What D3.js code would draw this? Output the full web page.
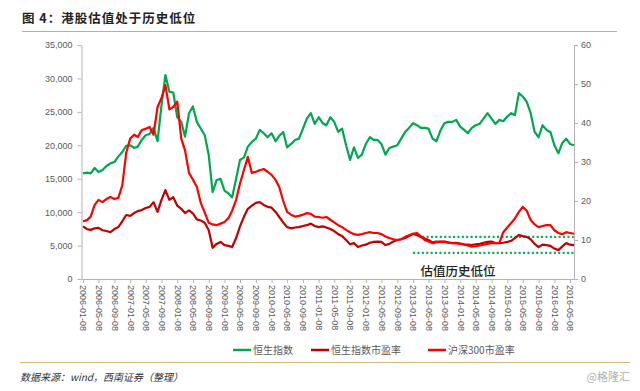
<!DOCTYPE html>
<html>
<head>
<meta charset="utf-8">
<script src="https://cdn.jsdelivr.net/npm/d3@7"></script>
<style>
  body { margin: 0; background: #fff; }
  text { font-family: "Liberation Sans", Arial, sans-serif; }
  .cjk { font-family: "Noto Sans CJK SC", sans-serif; }
</style>
</head>
<body>
<div id="chart"></div>
<script>
const width = 640;
const height = 391;

// monthly readings, first point 2006-01-08, one per month
const firstDate = "2006-01-08";

// 恒生指数 (left axis)
const hsi = [
  15800, 15900, 15800, 16600, 16000, 16300, 16900, 17300, 17500, 18300, 19000, 19900,
  20000, 19600, 19800, 20800, 21500, 21700, 22600, 20600, 26000, 30500, 28000, 27900,
  24200, 23500, 21300, 24800, 25800, 23500, 22500, 21500, 18500, 13000, 14800, 15000,
  13200, 12800, 12200, 15000, 17800, 18200, 19800, 20500, 21000, 22300, 21800, 21200,
  21800, 20600, 21400, 22000, 19700, 20200, 20800, 21000, 22500, 24000, 24800, 23200,
  24200, 23300, 23000, 24200, 23500, 22000, 22500, 20000, 17800, 19700, 18100, 18600,
  20200, 21200, 20800, 20800, 20200, 18600, 19600, 19800, 20000, 21000, 22000, 22600,
  23300, 23000, 22600, 22600, 22500, 21000, 20600, 22200, 23300, 23500, 23500, 23800,
  22800, 22300, 21800, 22600, 23000, 23200, 24000, 24800, 24000, 23200, 23800, 23600,
  24300, 24800, 24500, 27800, 27300, 26500, 24800, 22000, 21200, 23000, 22300, 22000,
  20000, 18800, 20300, 21000, 20200, 20000
];

// 恒生指数市盈率 (right axis)
const hsiPe = [
  13.5, 12.8, 12.6, 13.0, 13.1, 12.5, 12.3, 12.0, 12.8, 13.3, 14.8, 16.4,
  16.2, 16.9, 17.4, 17.7, 18.2, 18.5, 19.7, 17.2, 20.3, 22.8, 20.3, 21.0,
  18.8, 18.0, 16.9, 17.6, 16.8, 15.3, 15.0, 14.4, 12.5, 8.0, 9.0, 9.5,
  8.7, 8.5, 8.2, 10.5, 13.5, 16.0, 18.0, 18.8, 19.5, 19.7, 19.0, 18.5,
  18.3, 17.2, 15.9, 14.5, 13.3, 13.0, 13.2, 13.3, 13.6, 13.8, 14.2, 13.6,
  13.3, 13.5, 13.2, 12.8, 12.3, 11.5, 11.0, 10.0, 8.9, 9.2, 8.2, 8.6,
  8.8, 9.3, 9.5, 9.6, 9.5, 8.7, 9.0, 9.6, 10.0, 10.2, 10.5, 11.0,
  11.6, 11.2, 10.8, 10.4, 10.0, 9.4, 9.6, 9.5, 9.6, 9.4, 9.2, 9.3,
  9.1, 8.9, 8.8, 8.7, 8.9, 9.0, 9.3, 9.5, 9.6, 9.2, 9.2, 9.3,
  9.5, 9.8, 10.5, 11.3, 11.0, 10.8, 10.2, 9.0, 8.2, 8.8, 8.7, 8.5,
  7.8, 7.4, 8.3, 9.2, 8.8, 8.7
];

// 沪深300市盈率 (right axis)
const hs300Pe = [
  14.8, 15.1, 16.0, 19.0, 20.3, 19.7, 20.5, 21.0, 20.5, 20.8, 24.0, 32.3,
  36.0, 37.0, 36.4, 38.2, 38.5, 39.0, 37.0, 44.1, 46.4, 49.7, 43.5, 44.1,
  45.5, 36.0, 33.0, 27.2, 25.5, 23.6, 19.5, 17.0, 14.4, 14.0, 13.8, 14.2,
  14.6, 15.6, 17.5, 20.3, 24.5, 28.0, 31.3, 27.2, 27.5, 27.9, 28.2, 27.5,
  26.7, 25.4, 23.6, 20.0, 17.2, 16.5, 16.0, 16.2, 16.5, 16.9, 16.7, 16.0,
  15.9, 15.7, 15.9, 15.2, 14.5, 13.8, 13.3, 12.6, 12.0, 11.5, 11.3, 11.5,
  11.8, 12.0, 11.8, 11.8, 11.5, 10.9, 10.5, 10.2, 10.0, 10.2, 10.8, 11.2,
  11.6, 11.8, 11.0, 10.0, 9.6, 9.2, 9.4, 9.6, 9.5, 9.3, 9.2, 9.1,
  9.0, 8.8, 8.6, 8.3, 8.4, 8.6, 8.8, 9.0, 9.2, 9.2, 9.3, 12.0,
  13.2, 14.4, 15.5, 17.2, 18.5, 17.5, 15.1, 14.0, 13.3, 13.6, 13.8, 13.8,
  12.5, 11.8, 11.5, 12.0, 11.8, 11.6
];

const tickLabels = [
  "2006-01-08", "2006-05-08", "2006-09-08", "2007-01-08", "2007-05-08", "2007-09-08",
  "2008-01-08", "2008-05-08", "2008-09-08", "2009-01-08", "2009-05-08", "2009-09-08",
  "2010-01-08", "2010-05-08", "2010-09-08", "2011-01-08", "2011-05-08", "2011-09-08",
  "2012-01-08", "2012-05-08", "2012-09-08", "2013-01-08", "2013-05-08", "2013-09-08",
  "2014-01-08", "2014-05-08", "2014-09-08", "2015-01-08", "2015-05-08", "2015-09-08",
  "2016-01-08", "2016-05-08"
];
const leftTicks = [0, 5000, 10000, 15000, 20000, 25000, 30000, 35000];
const rightTicks = [0, 10, 20, 30, 40, 50, 60];

// 估值历史低位 dotted bands on the PE axis
const lowBands = [
  { from: "2013-03-20", to: "2016-06-05", pe: 10.8 },
  { from: "2013-01-08", to: "2016-06-05", pe: 6.7 }
];

const seriesNames = ["恒生指数", "恒生指数市盈率", "沪深300市盈率"];
const seriesColors = ["#00a74f", "#c00000", "#ff0000"];

const parse = d3.timeParse("%Y-%m-%d");
const start = parse(firstDate);
const dates = hsi.map((d, i) => d3.timeMonth.offset(start, i));

const svg = d3.select("#chart").append("svg")
  .attr("width", width)
  .attr("height", height);

// title
svg.append("text")
  .attr("class", "cjk")
  .attr("x", 22).attr("y", 23)
  .attr("font-size", 12.5).attr("font-weight", "bold")
  .attr("letter-spacing", 1)
  .attr("fill", "#222")
  .text("图 4：港股估值处于历史低位");
svg.append("line")
  .attr("x1", 22).attr("x2", 617).attr("y1", 31.5).attr("y2", 31.5)
  .attr("stroke", "#e0a86e").attr("stroke-width", 1);

const x = d3.scaleTime()
  .domain([parse("2005-12-27"), parse("2016-06-08")])
  .range([81.5, 574]);
const yL = d3.scaleLinear().domain([0, 35000]).range([279, 45]);
const yR = d3.scaleLinear().domain([0, 60]).range([279, 45]);

const axisColor = "#b3b3b3";
const labelColor = "#595959";

function styleAxis(g) {
  g.select(".domain").attr("stroke", axisColor);
  g.selectAll(".tick line").attr("stroke", axisColor);
  g.selectAll(".tick text").attr("fill", labelColor).attr("font-size", 9)
    .attr("font-family", "'Liberation Sans', Arial, sans-serif");
}

svg.append("g")
  .attr("transform", "translate(81.5,0)")
  .call(d3.axisLeft(yL).tickValues(leftTicks).tickFormat(d3.format(",")).tickSize(4).tickSizeOuter(0).tickPadding(5))
  .call(styleAxis);

svg.append("g")
  .attr("transform", "translate(574,0)")
  .call(d3.axisRight(yR).tickValues(rightTicks).tickSize(4).tickSizeOuter(0).tickPadding(3))
  .call(styleAxis);

const xAxis = svg.append("g")
  .attr("transform", "translate(0,279)")
  .call(d3.axisBottom(x).tickValues(tickLabels.map(parse))
    .tickFormat(d3.timeFormat("%Y-%m-%d")).tickSize(4).tickSizeOuter(0))
  .call(styleAxis);
xAxis.selectAll(".tick text")
  .attr("transform", "rotate(90)")
  .attr("text-anchor", "start")
  .attr("x", 6).attr("y", 0).attr("dy", "0.35em");

// dotted low-valuation bands
svg.selectAll(".band")
  .data(lowBands)
  .join("line")
  .attr("class", "band")
  .attr("x1", d => x(parse(d.from)))
  .attr("x2", d => x(parse(d.to)))
  .attr("y1", d => yR(d.pe))
  .attr("y2", d => yR(d.pe))
  .attr("stroke", "#00b050")
  .attr("stroke-width", 2.2)
  .attr("stroke-dasharray", "2 2.4");

svg.append("text")
  .attr("class", "cjk")
  .attr("x", 458).attr("y", 276)
  .attr("text-anchor", "middle")
  .attr("font-size", 12.5)
  .attr("font-weight", 500)
  .attr("fill", "#222")
  .text("估值历史低位");

// lines
const lineL = d3.line().x((d, i) => x(dates[i])).y(d => yL(d));
const lineR = d3.line().x((d, i) => x(dates[i])).y(d => yR(d));

svg.append("path").datum(hsi)
  .attr("d", lineL).attr("fill", "none")
  .attr("stroke", seriesColors[0]).attr("stroke-width", 2.2).attr("stroke-linejoin", "round");
svg.append("path").datum(hsiPe)
  .attr("d", lineR).attr("fill", "none")
  .attr("stroke", seriesColors[1]).attr("stroke-width", 2.2).attr("stroke-linejoin", "round");
svg.append("path").datum(hs300Pe)
  .attr("d", lineR).attr("fill", "none")
  .attr("stroke", seriesColors[2]).attr("stroke-width", 2.2).attr("stroke-linejoin", "round");

// legend
const legendX = [233, 311, 428];
const legend = svg.selectAll(".legend")
  .data(seriesNames)
  .join("g")
  .attr("class", "legend")
  .attr("transform", (d, i) => `translate(${legendX[i]},350)`);
legend.append("line")
  .attr("x1", 0).attr("x2", 18)
  .attr("stroke", (d, i) => seriesColors[i]).attr("stroke-width", 2.5);
legend.append("text")
  .attr("class", "cjk")
  .attr("x", 20).attr("dy", "0.35em")
  .attr("font-size", 10)
  .attr("fill", labelColor)
  .text(d => d);

// footer
svg.append("line")
  .attr("x1", 20).attr("x2", 630).attr("y1", 362.5).attr("y2", 362.5)
  .attr("stroke", "#c9b878").attr("stroke-width", 1);
svg.append("text")
  .attr("class", "cjk")
  .attr("x", 20).attr("y", 381)
  .attr("font-size", 10).attr("font-style", "italic")
  .attr("fill", "#333")
  .text("数据来源：wind，西南证券（整理）");
svg.append("text")
  .attr("class", "cjk")
  .attr("x", 630).attr("y", 381)
  .attr("text-anchor", "end")
  .attr("font-size", 11)
  .attr("fill", "#b0b0b0")
  .text("@格隆汇");
</script>
</body>
</html>
